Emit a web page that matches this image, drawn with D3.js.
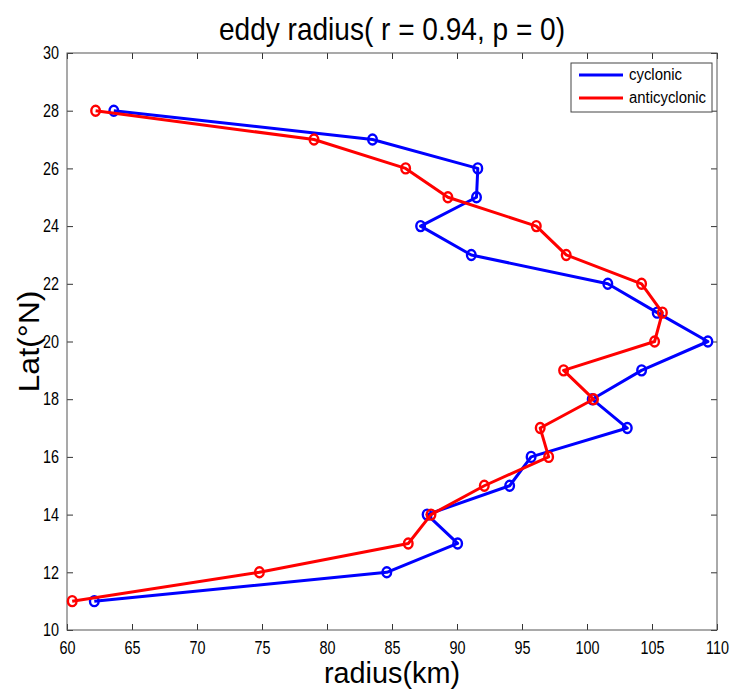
<!DOCTYPE html>
<html>
<head>
<meta charset="utf-8">
<script src="https://cdn.jsdelivr.net/npm/d3@7"></script>
<style>
  body { margin: 0; background: #fff; }
  text { font-family: "Liberation Sans", Arial, sans-serif; fill: #000; }
</style>
</head>
<body>
<div id="chart"></div>
<script>
// latitude of each point (deg N)
const lats = [11, 12, 13, 14, 15, 16, 17, 18, 19, 20, 21, 22, 23, 24, 25, 26, 27, 28];
// eddy radius (km)
const cyclonic = [62.1, 84.6, 90.05, 87.7, 94.05, 95.7, 103.1, 100.4, 104.2, 109.3, 105.4, 101.6, 91.1, 87.2, 91.5, 91.6, 83.5, 63.6];
const anticyclonic = [60.4, 74.8, 86.25, 88.0, 92.1, 97.05, 96.4, 100.5, 98.2, 105.2, 105.8, 104.2, 98.4, 96.1, 89.3, 86.05, 79.0, 62.2];
const xTicks = [60, 65, 70, 75, 80, 85, 90, 95, 100, 105, 110];
const yTicks = [10, 12, 14, 16, 18, 20, 22, 24, 26, 28, 30];
const seriesNames = ["cyclonic", "anticyclonic"];
const seriesColors = ["#0000ff", "#ff0000"];

const W = 731, H = 693;
const margin = { top: 53, right: 14, bottom: 63, left: 67 };
const width = W - margin.left - margin.right;
const height = H - margin.top - margin.bottom;

const svg = d3.select("#chart").append("svg")
  .attr("width", W)
  .attr("height", H);

const g = svg.append("g")
  .attr("transform", `translate(${margin.left},${margin.top})`);

const x = d3.scaleLinear().domain([60, 110]).range([0, width]);
const y = d3.scaleLinear().domain([10, 30]).range([height, 0]);

const tickLen = 6;
const squeeze = 0.8;

// axes (ticks pointing inwards, mirrored on top / right)
const xAxis = g.append("g")
  .attr("transform", `translate(0,${height})`)
  .call(d3.axisBottom(x).tickValues(xTicks).tickSizeInner(-tickLen).tickSizeOuter(0).tickPadding(11));
const yAxis = g.append("g")
  .call(d3.axisLeft(y).tickValues(yTicks).tickSizeInner(-tickLen).tickSizeOuter(0).tickPadding(10));
g.append("g")
  .call(d3.axisTop(x).tickValues(xTicks).tickSizeInner(-tickLen).tickSizeOuter(0).tickFormat(""));
g.append("g")
  .attr("transform", `translate(${width},0)`)
  .call(d3.axisRight(y).tickValues(yTicks).tickSizeInner(-tickLen).tickSizeOuter(0).tickFormat(""));

g.selectAll(".domain").remove();
g.selectAll(".tick line").attr("stroke", "#333");

[xAxis, yAxis].forEach(ax => {
  ax.selectAll("text")
    .style("font-size", "18px")
    .attr("fill", "#000")
    .attr("transform", `scale(${squeeze},1)`);
});

// plot box
g.append("rect")
  .attr("width", width)
  .attr("height", height)
  .attr("fill", "none")
  .attr("stroke", "#555")
  .attr("stroke-width", 1);

// series
const line = d3.line()
  .x(d => x(d.r))
  .y(d => y(d.lat));

[cyclonic, anticyclonic].forEach((vals, i) => {
  const pts = lats.map((lat, j) => ({ lat: lat, r: vals[j] }));
  g.append("path")
    .datum(pts)
    .attr("fill", "none")
    .attr("stroke", seriesColors[i])
    .attr("stroke-width", 3)
    .attr("stroke-linejoin", "round")
    .attr("d", line);
  g.selectAll(".pt" + i)
    .data(pts)
    .enter()
    .append("ellipse")
    .attr("class", "pt" + i)
    .attr("cx", d => x(d.r))
    .attr("cy", d => y(d.lat))
    .attr("rx", 4.3)
    .attr("ry", 5)
    .attr("fill", "none")
    .attr("stroke", seriesColors[i])
    .attr("stroke-width", 2.4);
});

// legend
const legend = svg.append("g").attr("transform", "translate(571,63)");
legend.append("rect")
  .attr("width", 141)
  .attr("height", 49)
  .attr("fill", "#fff")
  .attr("stroke", "#444")
  .attr("stroke-width", 1);
seriesNames.forEach((name, i) => {
  const ly = 12 + i * 23;
  legend.append("line")
    .attr("x1", 8).attr("x2", 52)
    .attr("y1", ly).attr("y2", ly)
    .attr("stroke", seriesColors[i])
    .attr("stroke-width", 3);
  legend.append("text")
    .attr("x", 58)
    .attr("y", ly + 5)
    .style("font-size", "16px")
    .attr("textLength", i === 0 ? 53 : 77)
    .attr("lengthAdjust", "spacingAndGlyphs")
    .text(name);
});

// title
svg.append("text")
  .attr("x", margin.left + width / 2)
  .attr("y", 40)
  .attr("text-anchor", "middle")
  .style("font-size", "32px")
  .attr("textLength", 346)
  .attr("lengthAdjust", "spacingAndGlyphs")
  .text("eddy radius( r = 0.94, p = 0)");

// x label
svg.append("text")
  .attr("x", margin.left + width / 2)
  .attr("y", 683)
  .attr("text-anchor", "middle")
  .style("font-size", "30px")
  .attr("textLength", 136)
  .attr("lengthAdjust", "spacingAndGlyphs")
  .text("radius(km)");

// y label
svg.append("text")
  .attr("transform", `translate(39,${margin.top + height / 2}) rotate(-90)`)
  .attr("text-anchor", "middle")
  .style("font-size", "30px")
  .attr("textLength", 102)
  .attr("lengthAdjust", "spacingAndGlyphs")
  .text("Lat(°N)");
</script>
</body>
</html>
